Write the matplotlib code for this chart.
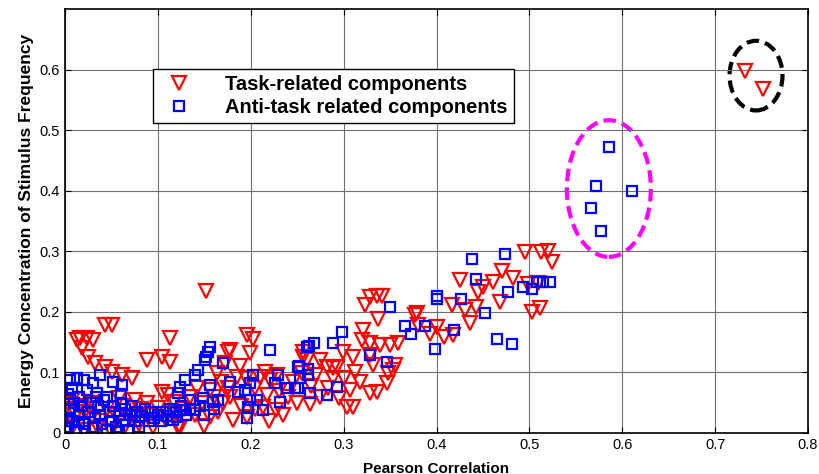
import numpy as np
import matplotlib.pyplot as plt
from matplotlib.patches import Ellipse

plt.rcParams['font.family'] = ['Liberation Sans', 'DejaVu Sans']

# task-related components (red triangles): (pearson correlation, energy concentration)
task_x = [0.732, 0.751,
          0.495, 0.513, 0.520, 0.524, 0.471, 0.482, 0.461, 0.425, 0.445, 0.450, 0.468, 0.443, 0.431,
          0.417, 0.503, 0.511, 0.499, 0.509, 0.379, 0.400, 0.393, 0.408, 0.418, 0.436, 0.377, 0.380,
          0.336, 0.328, 0.341, 0.323, 0.337, 0.321, 0.320, 0.328, 0.339, 0.350, 0.358, 0.299, 0.310,
          0.332, 0.353, 0.347, 0.328, 0.336, 0.307, 0.304, 0.310, 0.264, 0.288, 0.282, 0.256, 0.274,
          0.293, 0.288, 0.355, 0.328, 0.260, 0.348,
          0.196, 0.202, 0.199, 0.176, 0.178, 0.172, 0.164, 0.185, 0.210, 0.221, 0.256, 0.255, 0.178,
          0.156, 0.181, 0.147, 0.124, 0.213, 0.227, 0.196, 0.142, 0.156, 0.170, 0.152, 0.113, 0.104,
          0.113, 0.088, 0.104, 0.111, 0.122,
          0.043, 0.051, 0.016, 0.024, 0.030, 0.013, 0.018, 0.025, 0.032, 0.043, 0.051, 0.061, 0.072,
          0.230, 0.240, 0.245, 0.265, 0.270, 0.218, 0.205, 0.190, 0.235, 0.250, 0.275, 0.283, 0.215,
          0.228, 0.300, 0.312, 0.318, 0.295, 0.188, 0.168, 0.160, 0.135, 0.128, 0.117, 0.100, 0.090,
          0.082, 0.072, 0.062, 0.055, 0.045, 0.038, 0.030, 0.022, 0.015, 0.008, 0.005, 0.010, 0.003,
          0.020, 0.035, 0.050, 0.065, 0.080, 0.095, 0.108, 0.118, 0.140, 0.150, 0.165, 0.175, 0.195,
          0.205, 0.220, 0.000, 0.028, 0.058, 0.075, 0.088, 0.012]
task_y = [0.598, 0.568,
          0.298, 0.298, 0.301, 0.282, 0.268, 0.256, 0.250, 0.252, 0.232, 0.241, 0.216, 0.208, 0.203,
          0.211, 0.199, 0.206, 0.246, 0.248, 0.198, 0.175, 0.163, 0.159, 0.161, 0.181, 0.194, 0.178,
          0.227, 0.224, 0.227, 0.211, 0.189, 0.170, 0.153, 0.148, 0.146, 0.146, 0.149, 0.133, 0.125,
          0.112, 0.104, 0.082, 0.066, 0.067, 0.071, 0.043, 0.043, 0.048, 0.107, 0.109, 0.133, 0.120,
          0.109, 0.091, 0.112, 0.128, 0.120, 0.099,
          0.161, 0.156, 0.132, 0.133, 0.137, 0.115, 0.099, 0.092, 0.092, 0.087, 0.125, 0.099, 0.059,
          0.026, 0.021, 0.049, 0.010, 0.043, 0.038, 0.026, 0.074, 0.071, 0.049, 0.235, 0.157, 0.125,
          0.117, 0.120, 0.068, 0.063, 0.010,
          0.178, 0.178, 0.157, 0.157, 0.153, 0.153, 0.140, 0.125, 0.115, 0.109, 0.100, 0.096, 0.091,
          0.070, 0.060, 0.085, 0.078, 0.095, 0.062, 0.075, 0.045, 0.030, 0.050, 0.060, 0.075, 0.100,
          0.095, 0.090, 0.100, 0.085, 0.058, 0.110, 0.085, 0.060, 0.060, 0.040, 0.052, 0.042, 0.030,
          0.040, 0.028, 0.045, 0.030, 0.040, 0.020, 0.050, 0.035, 0.045, 0.055, 0.030, 0.015, 0.048,
          0.005, 0.008, 0.003, 0.012, 0.015, 0.010, 0.025, 0.033, 0.030, 0.012, 0.035, 0.075, 0.090,
          0.040, 0.020, 0.040, 0.025, 0.058, 0.055, 0.050, 0.030]

# anti-task related components (blue squares)
anti_x = [0.586, 0.572, 0.611, 0.566, 0.577,
          0.438, 0.474, 0.442, 0.477, 0.493, 0.503, 0.508, 0.515, 0.522, 0.400, 0.400, 0.426, 0.452,
          0.465, 0.481, 0.398, 0.388, 0.366, 0.372, 0.419,
          0.350, 0.298, 0.289, 0.268, 0.263, 0.328, 0.347, 0.252, 0.262, 0.262, 0.253, 0.293, 0.282,
          0.264, 0.248,
          0.156, 0.154, 0.152, 0.151, 0.221, 0.170, 0.143, 0.140, 0.129, 0.124, 0.122, 0.156, 0.178,
          0.202, 0.199, 0.194, 0.186, 0.229, 0.226, 0.239, 0.251, 0.251, 0.260, 0.199, 0.207, 0.213,
          0.231, 0.197, 0.196, 0.149, 0.159, 0.135, 0.127, 0.121, 0.140,
          0.005, 0.013, 0.020, 0.030, 0.038, 0.052, 0.061, 0.024, 0.034, 0.008, 0.003, 0.015, 0.045,
          0.060,
          0.000, 0.002, 0.005, 0.008, 0.010, 0.012, 0.015, 0.018, 0.020, 0.025, 0.028, 0.030, 0.032,
          0.035, 0.038, 0.040, 0.042, 0.045, 0.048, 0.050, 0.052, 0.055, 0.058, 0.060, 0.062, 0.065,
          0.068, 0.070, 0.072, 0.075, 0.078, 0.080, 0.083, 0.086, 0.090, 0.093, 0.096, 0.100, 0.103,
          0.106, 0.110, 0.113, 0.116, 0.120, 0.125, 0.130, 0.135, 0.145, 0.150, 0.160, 0.165, 0.003,
          0.022, 0.058, 0.015, 0.033, 0.005]
anti_y = [0.473, 0.407, 0.400, 0.371, 0.333,
          0.288, 0.296, 0.255, 0.232, 0.241, 0.237, 0.250, 0.249, 0.249, 0.226, 0.222, 0.221, 0.198,
          0.156, 0.147, 0.138, 0.176, 0.176, 0.163, 0.170,
          0.208, 0.166, 0.148, 0.148, 0.143, 0.128, 0.117, 0.110, 0.105, 0.096, 0.091, 0.076, 0.063,
          0.066, 0.074,
          0.142, 0.133, 0.125, 0.120, 0.137, 0.115, 0.104, 0.096, 0.087, 0.076, 0.066, 0.079, 0.084,
          0.096, 0.082, 0.071, 0.068, 0.096, 0.082, 0.074, 0.109, 0.074, 0.142, 0.054, 0.054, 0.038,
          0.051, 0.043, 0.025, 0.058, 0.051, 0.054, 0.038, 0.026, 0.038,
          0.087, 0.091, 0.087, 0.082, 0.096, 0.084, 0.079, 0.071, 0.066, 0.075, 0.065, 0.060, 0.060,
          0.065,
          0.010, 0.025, 0.040, 0.020, 0.050, 0.005, 0.030, 0.045, 0.015, 0.035, 0.050, 0.010, 0.025,
          0.045, 0.030, 0.015, 0.055, 0.005, 0.035, 0.020, 0.045, 0.010, 0.030, 0.050, 0.020, 0.040,
          0.005, 0.030, 0.045, 0.020, 0.035, 0.010, 0.028, 0.040, 0.020, 0.035, 0.025, 0.030, 0.020,
          0.035, 0.028, 0.040, 0.022, 0.035, 0.045, 0.030, 0.040, 0.045, 0.030, 0.040, 0.055, 0.003,
          0.003, 0.002, 0.018, 0.060, 0.055]

xticks = [0, 0.1, 0.2, 0.3, 0.4, 0.5, 0.6, 0.7, 0.8]
yticks = [0, 0.1, 0.2, 0.3, 0.4, 0.5, 0.6]

fig = plt.figure(figsize=(8.19, 4.74), dpi=100)
ax = fig.add_axes([0.0794, 0.0865, 0.9072, 0.8945])

ax.plot(task_x, task_y, 'v', color='red', markerfacecolor='none', markersize=10,
        markeredgewidth=1.6, label='Task-related components')
ax.plot(anti_x, anti_y, 's', color='blue', markerfacecolor='none', markersize=7.5,
        markeredgewidth=1.6, label='Anti-task related components')

# highlighted groups
ax.add_patch(Ellipse((0.5856, 0.4036), 0.0904, 0.2257, fill=False, edgecolor='#ff00ff',
                     linewidth=3, linestyle=(0, (3, 1.5))))
ax.add_patch(Ellipse((0.744, 0.590), 0.057, 0.115, fill=False, edgecolor='black',
                     linewidth=3, linestyle=(0, (3, 1.5))))

ax.set_xlim(0, 0.8)
ax.set_ylim(0, 0.7)
ax.set_xticks(xticks)
ax.set_xticklabels([('%g' % v) for v in xticks])
ax.set_yticks(yticks)
ax.set_yticklabels([('%g' % v) for v in yticks])
ax.tick_params(direction='in', top=True, right=True, labelsize=10.5, length=4)
ax.grid(True, color='#707070', linewidth=0.8, linestyle='-')
for s in ax.spines.values():
    s.set_linewidth(1.2)

ax.set_xlabel('Pearson Correlation', fontsize=11, fontweight='bold', labelpad=7)
ax.set_ylabel('Energy Concentration of Stimulus Frequency', fontsize=12.5, fontweight='bold', labelpad=4)

leg = ax.legend(loc='upper left', bbox_to_anchor=(0.118, 0.858),
                prop={'weight': 'bold', 'size': 14.5}, fancybox=False, framealpha=1,
                edgecolor='black', borderpad=0.3, handletextpad=1.3, labelspacing=0.2,
                borderaxespad=0)
leg.get_frame().set_linewidth(1.0)

fig.savefig('out.png', dpi=100)
